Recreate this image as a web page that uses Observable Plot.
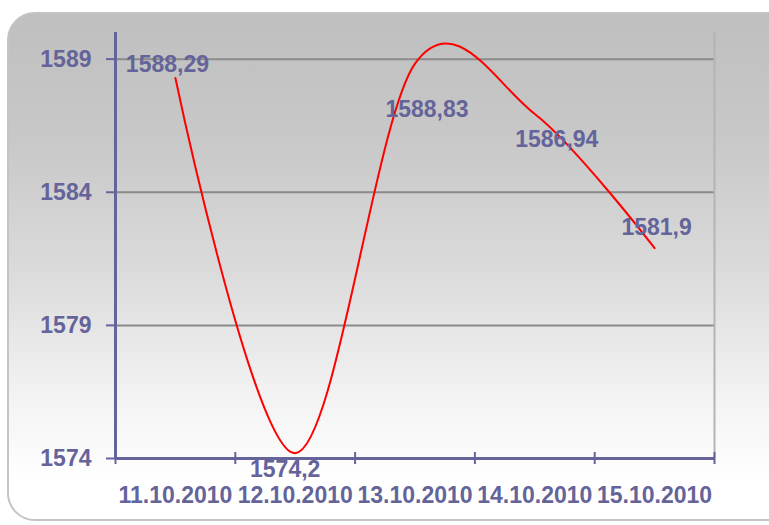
<!DOCTYPE html>
<html>
<head>
<meta charset="utf-8">
<script src="https://cdn.jsdelivr.net/npm/d3@7"></script>
<script src="https://cdn.jsdelivr.net/npm/@observablehq/plot@0.6"></script>
<style>
  html, body { margin: 0; padding: 0; background: #fff; }
  #wrap { position: relative; width: 769px; height: 525px; overflow: hidden; }
  #panel {
    position: absolute; left: 7px; top: 12px; width: 800px; height: 509px;
    border: 2px solid #c4c4c4; border-radius: 28px; box-sizing: border-box;
    background: linear-gradient(to bottom, #bfbfbf 0%, #c8c8c8 25%, #dadada 50%, #f2f2f2 75%, #ffffff 92%);
  }
  #chart { position: absolute; left: 0; top: 0; }
  svg { background: transparent !important; }
</style>
</head>
<body>
<div id="wrap"><div id="panel"></div><div id="chart"></div></div>
<script>
const dates = ["11.10.2010", "12.10.2010", "13.10.2010", "14.10.2010", "15.10.2010"];
const values = [1588.29, 1574.2, 1588.83, 1586.94, 1581.9];
const valueLabels = ["1588,29", "1574,2", "1588,83", "1586,94", "1581,9"];
const yTicks = [1574, 1579, 1584, 1589];

// label offsets (px) relative to each point, as placed in the original
const labelDx = [-8, -10, 12, 22, 2];
const labelDy = [-13, 16, 46, 26, -21];

const data = dates.map((d, i) => ({i, date: d, value: values[i], label: valueLabels[i]}));
const bounds = d3.range(dates.length + 1);
const centers = dates.map((d, i) => i + 0.5);

const axisColor = "#64649a";
const font = "Liberation Sans, Arial, sans-serif";
const fs = 23;

const chart = Plot.plot({
  width: 769,
  height: 525,
  marginLeft: 115,
  marginRight: 55,
  marginTop: 32,
  marginBottom: 67,
  style: {fontFamily: font, background: "transparent"},
  x: {domain: [0, dates.length], axis: null},
  y: {domain: [1574, 1590], axis: null},
  marks: [
    Plot.ruleY(yTicks.slice(1), {stroke: "#8a8a8a", strokeWidth: 2}),
    Plot.ruleX([dates.length], {stroke: "#b4b4b4", strokeWidth: 2}),
    Plot.axisY({ticks: yTicks, label: null, tickSize: 9, tickPadding: 15, fontSize: fs, fontWeight: "bold", fill: axisColor, stroke: axisColor, strokeWidth: 2, tickFormat: d => String(d)}),
    Plot.ruleX(bounds, {x: d => d, y1: 1574, y2: 1574, insetTop: -6, insetBottom: -6, stroke: axisColor, strokeWidth: 2}),
    Plot.ruleX([0], {stroke: axisColor, strokeWidth: 3}),
    Plot.ruleY([1574], {stroke: axisColor, strokeWidth: 3}),
    Plot.axisX({ticks: centers, label: null, tickSize: 0, tickPadding: 28, fontSize: fs, fontWeight: "bold", fill: axisColor, tickFormat: d => dates[Math.round(d - 0.5)]}),
    Plot.line(data, {x: d => d.i + 0.5, y: "value", curve: "cardinal", tension: 0, stroke: "red", strokeWidth: 2}),
    ...data.map((d, k) => Plot.text([d], {x: d => d.i + 0.5, y: "value", text: "label", dx: labelDx[k], dy: labelDy[k], fontSize: fs, fontWeight: "bold", fill: axisColor}))
  ]
});
document.getElementById("chart").appendChild(chart);
</script>
</body>
</html>
